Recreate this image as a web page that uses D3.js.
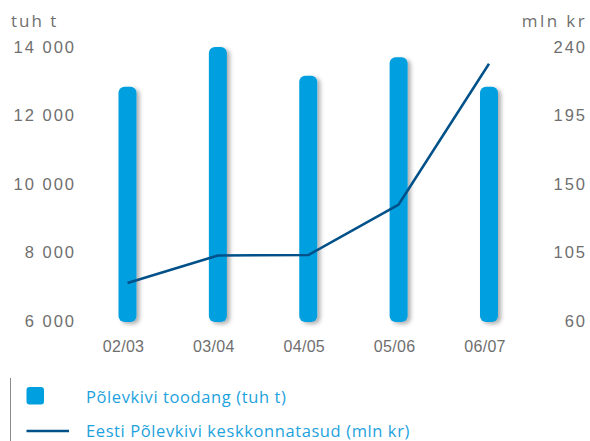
<!DOCTYPE html>
<html>
<head>
<meta charset="utf-8">
<script src="https://cdn.jsdelivr.net/npm/d3@7"></script>
<style>
  html, body { margin: 0; padding: 0; background: #fff; }
  svg { display: block; font-family: "Open Sans", "Noto Sans", sans-serif; }
</style>
</head>
<body>
<svg id="chart" width="590" height="441"></svg>
<script>
// Oil-shale production (thousand tonnes) and environmental charges (million kroons)
const seasons = ["02/03", "03/04", "04/05", "05/06", "06/07"];
const production = [12840, 14000, 13160, 13700, 12840];
const envCharges = [85, 103, 103.3, 136.5, 229];
const leftTicks = [6000, 8000, 10000, 12000, 14000];
const rightTicks = [60, 105, 150, 195, 240];

const barColor = "#009fdf";
const lineColor = "#005189";
const textGray = "#6f6f6f";

const svg = d3.select("#chart");

const defs = svg.append("defs");
const shadow = defs.append("filter").attr("id", "barShadow")
  .attr("x", "-50%").attr("y", "-10%").attr("width", "220%").attr("height", "130%");
shadow.append("feDropShadow")
  .attr("dx", 3).attr("dy", 2).attr("stdDeviation", 2)
  .attr("flood-color", "#000").attr("flood-opacity", 0.32);

const x = d3.scalePoint().domain(seasons).range([127.5, 489]);
const yLeft = d3.scaleLinear().domain([6000, 14000]).range([321, 47]);
const yRight = d3.scaleLinear().domain([60, 240]).range([321, 47]);

const spaceFmt = v => d3.format(",")(v).replace(/,/g, " ");

// Left axis (production)
const gL = svg.append("g").attr("transform", "translate(76,0)")
  .call(d3.axisLeft(yLeft).tickValues(leftTicks).tickFormat(spaceFmt).tickSize(0).tickPadding(0));
gL.select(".domain").remove();
gL.selectAll("text").attr("font-size", 16.5).attr("letter-spacing", "2px").attr("fill", textGray);

// Right axis (charges)
const gR = svg.append("g").attr("transform", "translate(587,0)")
  .call(d3.axisLeft(yRight).tickValues(rightTicks).tickSize(0).tickPadding(0));
gR.select(".domain").remove();
gR.selectAll("text").attr("font-size", 16.5).attr("letter-spacing", "2px").attr("fill", textGray);

// Unit captions
svg.append("text").attr("x", 11).attr("y", 27).attr("font-size", 17)
  .attr("letter-spacing", "2px").attr("fill", textGray).text("tuh t");
svg.append("text").attr("x", 587).attr("y", 27).attr("text-anchor", "end").attr("font-size", 17)
  .attr("letter-spacing", "2.4px").attr("fill", textGray).text("mln kr");

// Category axis
const gX = svg.append("g").attr("transform", "translate(-4.5,341)")
  .call(d3.axisBottom(x).tickSize(0).tickPadding(0));
gX.select(".domain").remove();
gX.selectAll("text").attr("font-size", 16).attr("letter-spacing", "0.3px")
  .attr("dy", "0.71em").attr("fill", textGray);

// Production bars
const barW = 18;
svg.append("g").selectAll("rect").data(seasons).join("rect")
  .attr("x", d => x(d) - barW / 2)
  .attr("width", barW)
  .attr("y", (d, i) => yLeft(production[i]))
  .attr("height", (d, i) => yLeft(6000) + 1 - yLeft(production[i]))
  .attr("rx", 6)
  .attr("fill", barColor)
  .attr("filter", "url(#barShadow)");

// Environmental charges line
const line = d3.line()
  .x((d, i) => x(seasons[i]))
  .y(d => yRight(d));
svg.append("path").datum(envCharges)
  .attr("d", line)
  .attr("fill", "none")
  .attr("stroke", lineColor)
  .attr("stroke-width", 2.5)
  .attr("stroke-linejoin", "round");

// Legend
const legend = svg.append("g");
legend.append("line").attr("x1", 10.5).attr("x2", 10.5).attr("y1", 378).attr("y2", 441)
  .attr("stroke", "#8a8a8a").attr("stroke-width", 1);
legend.append("rect").attr("x", 26.5).attr("y", 387).attr("width", 17.5).attr("height", 17.5)
  .attr("rx", 3).attr("fill", barColor);
legend.append("line").attr("x1", 26.5).attr("x2", 69).attr("y1", 431).attr("y2", 431)
  .attr("stroke", lineColor).attr("stroke-width", 2.5);
legend.append("text").attr("x", 86).attr("y", 403).attr("font-size", 16.5)
  .attr("letter-spacing", "0.6px").attr("fill", "#1da2dd").text("Põlevkivi toodang (tuh t)");
legend.append("text").attr("x", 86).attr("y", 437).attr("font-size", 16.5)
  .attr("letter-spacing", "0.6px").attr("fill", "#1da2dd").text("Eesti Põlevkivi keskkonnatasud (mln kr)");
</script>
</body>
</html>
